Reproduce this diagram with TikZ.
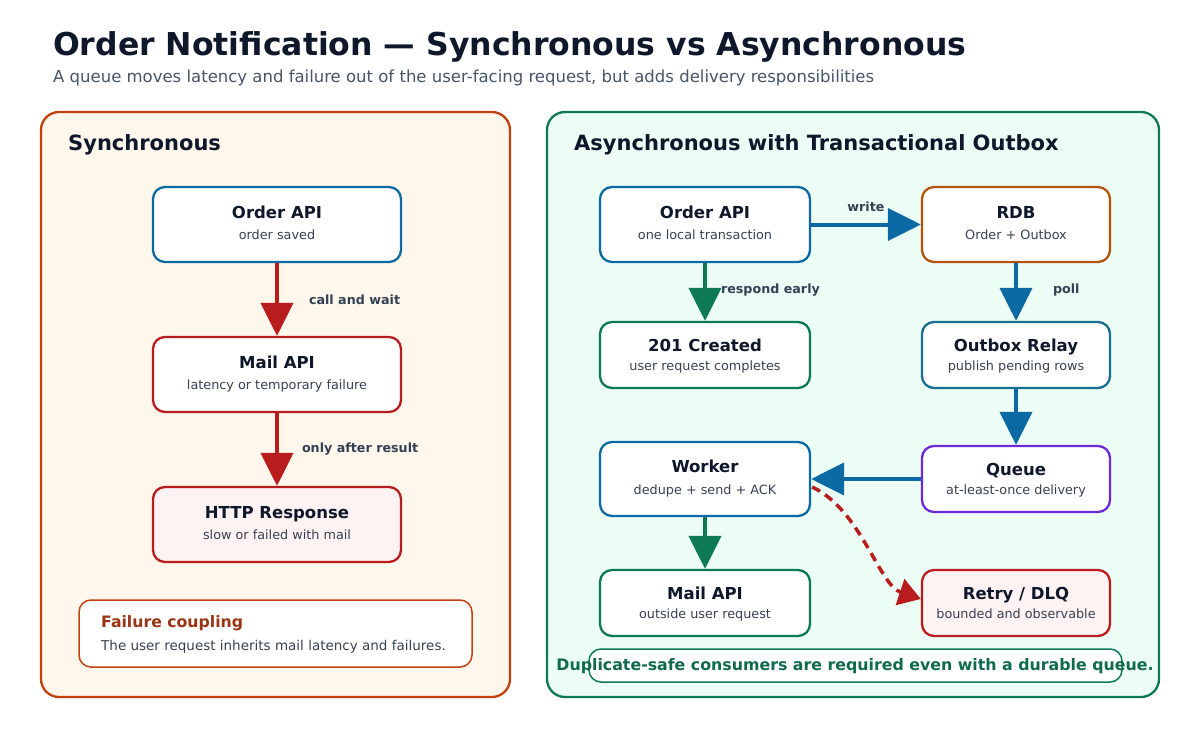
\documentclass[tikz,border=0pt]{standalone}
\usepackage{fontspec}
\setmainfont{DejaVu Sans}
\usetikzlibrary{arrows.meta,calc}
\definecolor{ink}{HTML}{0F172A}
\definecolor{muted}{HTML}{475569}
\definecolor{subtx}{HTML}{374151}
\definecolor{lbl}{HTML}{334155}
\definecolor{blueC}{HTML}{0B69A3}
\definecolor{redC}{HTML}{B91C1C}
\definecolor{greenC}{HTML}{0E7A55}
\definecolor{orangeC}{HTML}{C2410C}
\definecolor{rdbC}{HTML}{B45309}
\definecolor{relC}{HTML}{17708F}
\definecolor{purC}{HTML}{6D28D9}
\definecolor{lfill}{HTML}{FFF7EC}
\definecolor{rfill}{HTML}{ECFDF5}
\definecolor{pinkf}{HTML}{FEF2F2}
\definecolor{fctitle}{HTML}{9A3412}
\definecolor{notegreen}{HTML}{0F6B4A}
\tikzset{
  panel/.style={rectangle, rounded corners=18pt, line width=2.3pt},
  card/.style={rectangle, rounded corners=12pt, line width=2.3pt, fill=white},
  blueb/.style={draw=blueC},
  redb/.style={draw=redC},
  greenb/.style={draw=greenC},
  ctitle/.style={anchor=base, inner sep=0pt, text=ink, font=\fontsize{16.5}{20}\selectfont\bfseries},
  csub/.style={anchor=base, inner sep=0pt, text=subtx, font=\fontsize{12.8}{16}\selectfont},
  elabel/.style={inner sep=0pt, text=lbl, font=\fontsize{12.7}{16}\selectfont\bfseries},
  flow/.style={line width=4pt, -{Triangle[length=33pt,width=32pt]}},
  ptitle/.style={anchor=base west, inner sep=0pt, text=ink, font=\fontsize{21}{25}\selectfont\bfseries},
}
\newcommand\card[8]{%
  \node[card,#6,minimum width=#4pt,minimum height=#5pt] (#1) at (#2,#3) {};
  \pgfmathsetmacro\tdy{-0.28*#5+14.5}
  \node[ctitle] (#1-t) at ($(#1.center)+(0,\tdy)$) {#7};
  \node[csub] (#1-s) at ($(#1.center)+(0,15)$) {#8};
}
\begin{document}
\begin{tikzpicture}[x=1pt,y=-1pt]
\fill[white] (0,0) rectangle (1200,750);
\useasboundingbox (0,0) rectangle (1200,750);
% titles
\node[anchor=base west, inner sep=0pt, text=ink, font=\fontsize{31.5}{37}\selectfont\bfseries] (title) at (53,55) {Order Notification — Synchronous vs Asynchronous};
\node[anchor=base west, inner sep=0pt, text=muted, font=\fontsize{16.5}{20}\selectfont] (subtitle) at (53,82) {A queue moves latency and failure out of the user-facing request, but adds delivery responsibilities};
% panels
\node[panel, draw=orangeC, fill=lfill, minimum width=469pt, minimum height=585pt] (lp) at (275.5,404.5) {};
\node[panel, draw=greenC, fill=rfill, minimum width=612pt, minimum height=585pt] (rp) at (853,404.5) {};
\node[ptitle] (lpt) at (68,150) {Synchronous};
\node[ptitle] (rpt) at (574,150) {Asynchronous with Transactional Outbox};
% left cards
\card{soa}{277}{224.5}{248}{75}{blueb}{Order API}{order saved}
\card{sma}{277}{374.5}{248}{75}{redb}{Mail API}{latency or temporary failure}
\card{shr}{277}{524.5}{248}{75}{redb,fill=pinkf}{HTTP Response}{slow or failed with mail}
\draw[flow, redC] (soa.south) -- (sma.north) node[elabel, midway, anchor=west, xshift=30pt] {call and wait};
\draw[flow, redC] (sma.south) -- (shr.north) node[elabel, midway, anchor=west, xshift=23pt] {only after result};
% failure coupling
\node[rectangle, rounded corners=12pt, draw=orangeC, line width=1.5pt, fill=white, minimum width=393pt, minimum height=67pt] (fc) at (275.5,633.5) {};
\node[anchor=base west, inner sep=0pt, text=fctitle, font=\fontsize{15.7}{18}\selectfont\bfseries] (fct) at (101,627) {Failure coupling};
\node[anchor=base west, inner sep=0pt, text=subtx, font=\fontsize{13.5}{16}\selectfont] (fcs) at (101,650) {The user request inherits mail latency and failures.};
% right cards
\card{aoa}{705}{224.5}{210}{75}{blueb}{Order API}{one local transaction}
\card{rdb}{1016}{224.5}{188}{75}{draw=rdbC}{RDB}{Order + Outbox}
\card{cr}{705}{355}{210}{66}{greenb}{201 Created}{user request completes}
\card{rel}{1016}{355}{188}{66}{draw=relC}{Outbox Relay}{publish pending rows}
\card{wk}{705}{479}{210}{74}{blueb}{Worker}{dedupe + send + ACK}
\card{q}{1016}{479}{188}{66}{draw=purC}{Queue}{at-least-once delivery}
\card{ma}{705}{603}{210}{66}{greenb}{Mail API}{outside user request}
\card{rt}{1016}{603}{188}{66}{redb,fill=pinkf}{Retry / DLQ}{bounded and observable}
% right connectors
\draw[flow, blueC] (aoa.east) -- (rdb.west) node[elabel, midway, yshift=18pt] {write};
\draw[flow, greenC] (aoa.south) -- (cr.north) node[elabel, midway, anchor=west, xshift=14pt, yshift=2pt] {respond early};
\draw[flow, blueC] (rdb.south) -- (rel.north) node[elabel, midway, anchor=west, xshift=35pt, yshift=2pt] {poll};
\draw[flow, blueC] (rel.south) -- (q.north);
\draw[flow, blueC] (q.west) -- (wk.east);
\draw[flow, greenC] (wk.south) -- (ma.north);
\draw[redC, line width=3.5pt, dash pattern=on 9pt off 6pt, -{Triangle[length=22pt,width=27pt]}]
  ($(wk.east)+(1,8)$) .. controls +(49,23) and +(-42,-14) .. ($(rt.west)+(0,-4)$);
% bottom note
\node[rectangle, rounded corners=12pt, draw=greenC, line width=1.5pt, fill=white, minimum width=533pt, minimum height=33pt] (note) at (855.5,665.5) {};
\node[anchor=base, inner sep=0pt, text=notegreen, font=\fontsize{15.8}{19}\selectfont\bfseries] (notet) at (855,670.5) {Duplicate-safe consumers are required even with a durable queue.};
\end{tikzpicture}
\end{document}
